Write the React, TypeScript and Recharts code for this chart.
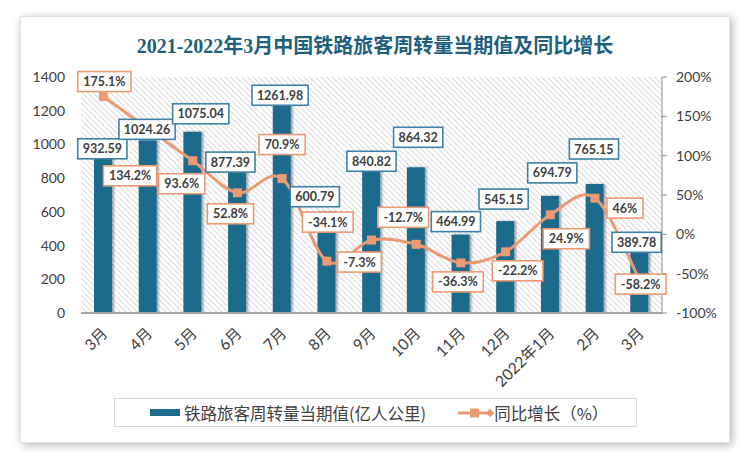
import React from "react";
import {
  ComposedChart,
  Bar,
  Line,
  XAxis,
  YAxis,
  CartesianGrid,
  LabelList,
} from "recharts";

const months = [
  "3月",
  "4月",
  "5月",
  "6月",
  "7月",
  "8月",
  "9月",
  "10月",
  "11月",
  "12月",
  "2022年1月",
  "2月",
  "3月",
];
// 铁路旅客周转量当期值(亿人公里)
const turnover = [
  932.59, 1024.26, 1075.04, 877.39, 1261.98, 600.79, 840.82, 864.32, 464.99,
  545.15, 694.79, 765.15, 389.78,
];
// 同比增长（%）
const growth = [
  175.1, 134.2, 93.6, 52.8, 70.9, -34.1, -7.3, -12.7, -36.3, -22.2, 24.9, 46,
  -58.2,
];
const leftTicks = [0, 200, 400, 600, 800, 1000, 1200, 1400];
const rightTicks = [-100, -50, 0, 50, 100, 150, 200];

// label box offsets (px) from the point they belong to
const barLabelShift = [
  [-1, -7], [-1, -11], [8, -18], [-7, -3], [-2, -5], [-12, -15], [0, -10],
  [2, -30], [-5, -13], [-2, -22], [2, -23], [-1, -35], [-3, -5],
];
const lineLabelShift = [
  [1, -15], [-18, 47], [-11, 23], [-7, 21], [0, -34], [1, -39], [-12, 22],
  [-13, -27], [-3, 19], [12, 19], [16, 24], [30, 10], [1, 4],
];

const BAR = "#1d6a8c";
const BAR_BOX = "#3f82a6";
const LINE = "#ec9a74";
const TEXT = "#404040";
const FONT = "Lato, 'Noto Sans CJK SC', sans-serif";

const data = months.map((m, i) => ({
  month: m,
  value: turnover[i],
  pct: growth[i],
}));

// rough Excel-like smoothed line (Catmull-Rom)
class SmoothCurve {
  ctx: any;
  pts: number[][] = [];
  constructor(ctx: any) {
    this.ctx = ctx;
  }
  areaStart() {}
  areaEnd() {}
  lineStart() {
    this.pts = [];
  }
  point(x: number, y: number) {
    this.pts.push([+x, +y]);
  }
  lineEnd() {
    const p = this.pts;
    if (!p.length) return;
    this.ctx.moveTo(p[0][0], p[0][1]);
    for (let i = 0; i < p.length - 1; i++) {
      const p0 = p[i - 1] || p[i];
      const p1 = p[i];
      const p2 = p[i + 1];
      const p3 = p[i + 2] || p2;
      const t = 1 / 6;
      this.ctx.bezierCurveTo(
        p1[0] + (p2[0] - p0[0]) * t,
        p1[1] + (p2[1] - p0[1]) * t,
        p2[0] - (p3[0] - p1[0]) * t,
        p2[1] - (p3[1] - p1[1]) * t,
        p2[0],
        p2[1]
      );
    }
  }
}
const smooth = (ctx: any) => new SmoothCurve(ctx);

const textWidth = (s: string) => {
  let w = 0;
  for (const c of s) {
    if (c === ".") w += 3.2;
    else if (c === "%") w += 11;
    else if (c === "-") w += 4.5;
    else w += 7;
  }
  return w;
};

const boxLabel =
  (shift: number[][], border: string, suffix: string) => (props: any) => {
    const { x, y, value, index } = props;
    if (x == null || y == null) return null;
    const s = `${value}${suffix}`;
    const w = textWidth(s) + 11;
    const h = 20;
    const cx = x + shift[index][0];
    const cy = y + shift[index][1];
    return (
      <g>
        <rect
          x={cx - w / 2}
          y={cy - h / 2}
          width={w}
          height={h}
          fill="#fff"
          stroke={border}
          strokeWidth={1.6}
        />
        <text
          x={cx}
          y={cy}
          textAnchor="middle"
          dominantBaseline="central"
          fontFamily={FONT}
          fontWeight="bold"
          fontSize={12.5}
          fill={TEXT}
        >
          {s}
        </text>
      </g>
    );
  };

const MonthTick = (props: any) => {
  const { x, y, payload } = props;
  return (
    <g transform={`translate(${x + 1},${y})`}>
      <text
        transform="rotate(-45)"
        textAnchor="end"
        dominantBaseline="central"
        fontFamily={FONT}
        fontSize={15.5}
        fill={TEXT}
      >
        {payload.value}
      </text>
    </g>
  );
};

const Square = (props: any) => {
  const { cx, cy } = props;
  if (cx == null || cy == null) return null;
  return <rect x={cx - 4.5} y={cy - 4.5} width={9} height={9} fill={LINE} />;
};

export default function App() {
  return (
    <div
      style={{
        position: "relative",
        width: 750,
        height: 461,
        background: "#fff",
        fontFamily: FONT,
      }}
    >
      <style>{"body{margin:0}"}</style>
      <div
        style={{
          position: "absolute",
          left: 20,
          top: 16,
          width: 710,
          height: 427,
          background: "#fff",
          border: "1px solid #e2e2e2",
          boxSizing: "border-box",
          boxShadow: "2px 2px 9px rgba(0,0,0,0.3)",
        }}
      />
      <div
        style={{
          position: "absolute",
          left: 0,
          width: 750,
          top: 30,
          textAlign: "center",
          fontFamily: "'Liberation Serif', 'Noto Sans CJK SC', serif",
          fontWeight: "bold",
          fontSize: 20,
          color: "#1f5f7e",
        }}
      >
        2021-2022年3月中国铁路旅客周转量当期值及同比增长
      </div>
      <div style={{ position: "absolute", left: 0, top: 0 }}>
        <ComposedChart
          width={750}
          height={461}
          data={data}
          margin={{ top: 77, right: 28, bottom: 88, left: 0 }}
        >
          <defs>
            <pattern
              id="hatch"
              patternUnits="userSpaceOnUse"
              width="4"
              height="4"
              patternTransform="rotate(-45)"
            >
              <rect width="4" height="4" fill="#fff" />
              <line x1="0" y1="0" x2="0" y2="4" stroke="#d0d0d0" strokeWidth="1.6" />
            </pattern>
            <filter id="barShadow" x="-50%" y="-10%" width="200%" height="120%">
              <feDropShadow
                dx="2"
                dy="0"
                stdDeviation="1.2"
                floodColor="#000"
                floodOpacity="0.35"
              />
            </filter>
          </defs>
          <CartesianGrid
            horizontal={false}
            vertical={false}
            fill="url(#hatch)"
            fillOpacity={1}
          />
          <XAxis
            dataKey="month"
            interval={0}
            tickLine={false}
            tickSize={0}
            tickMargin={17}
            height={60}
            axisLine={{ stroke: "#a6a6a6", strokeWidth: 2 }}
            tick={<MonthTick />}
          />
          <YAxis
            yAxisId="left"
            domain={[0, 1400]}
            ticks={leftTicks}
            width={81}
            axisLine={false}
            tickLine={false}
            tickSize={0}
            tickMargin={16}
            tick={{ fontSize: 14, fill: TEXT, fontFamily: FONT }}
          />
          <YAxis
            yAxisId="right"
            orientation="right"
            domain={[-100, 200]}
            ticks={rightTicks}
            width={60}
            axisLine={{ stroke: "#8c8c8c" }}
            tickLine={{ stroke: "#8c8c8c" }}
            tickSize={5}
            tickMargin={9}
            tickFormatter={(v: number) => `${v}%`}
            tick={{ fontSize: 14, fill: TEXT, fontFamily: FONT, textAnchor: "start" }}
          />
          <Bar
            yAxisId="left"
            dataKey="value"
            barSize={18}
            fill={BAR}
            isAnimationActive={false}
            shape={(p: any) => (
              <rect
                x={p.x}
                y={p.y}
                width={p.width}
                height={p.height}
                fill={BAR}
                filter="url(#barShadow)"
              />
            )}
          />
          <Line
            yAxisId="right"
            dataKey="pct"
            type={smooth as any}
            stroke={LINE}
            strokeWidth={3}
            dot={<Square />}
            activeDot={false}
            isAnimationActive={false}
          >
            <LabelList
              dataKey="pct"
              content={boxLabel(lineLabelShift, LINE, "%")}
            />
          </Line>
          <Line
            yAxisId="left"
            dataKey="value"
            stroke="none"
            dot={false}
            activeDot={false}
            legendType="none"
            isAnimationActive={false}
          >
            <LabelList
              dataKey="value"
              content={boxLabel(barLabelShift, BAR_BOX, "")}
            />
          </Line>
        </ComposedChart>
      </div>
      <div
        style={{
          position: "absolute",
          left: 114,
          top: 398,
          width: 523,
          height: 29,
          border: "1px solid #d9d9d9",
          boxSizing: "border-box",
          display: "flex",
          alignItems: "center",
          fontFamily: "'Noto Sans CJK SC', sans-serif",
          fontSize: 16.5,
          color: TEXT,
        }}
      >
        <span
          style={{
            marginLeft: 35,
            width: 30,
            height: 7,
            background: BAR,
            display: "inline-block",
          }}
        />
        <span style={{ marginLeft: 4 }}>铁路旅客周转量当期值(亿人公里)</span>
        <svg width={36} height={12} style={{ marginLeft: 32 }}>
          <line x1={0} y1={6} x2={32} y2={6} stroke={LINE} strokeWidth={3} />
          <rect x={12} y={1.5} width={9} height={9} fill={LINE} />
          <rect x={29} y={3} width={6} height={6} fill={LINE} transform="rotate(45 32 6)" />
        </svg>
        <span>同比增长（%）</span>
      </div>
    </div>
  );
}
